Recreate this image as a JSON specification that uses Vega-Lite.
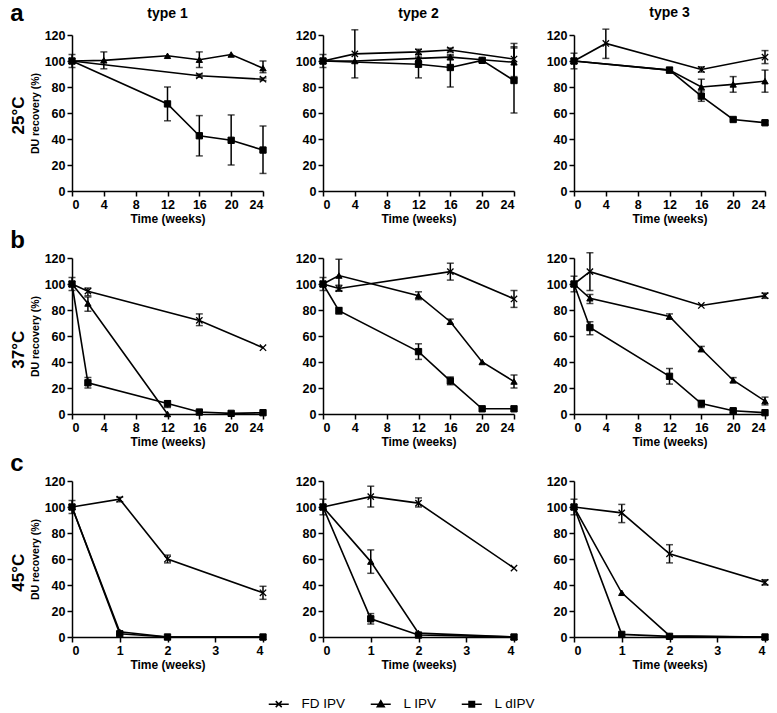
{
 "$schema": "https://vega.github.io/schema/vega-lite/v6.json",
 "background": "white",
 "padding": {"left": 10, "top": 2, "right": 0, "bottom": 2},
 "datasets": {"d": [
  {"r":"a","c":1,"s":"FD IPV","t":0,"v":100,"lo":95,"hi":105},
  {"r":"a","c":1,"s":"FD IPV","t":16,"v":88.6,"lo":87.5,"hi":90},
  {"r":"a","c":1,"s":"FD IPV","t":24,"v":86,"lo":85,"hi":87},
  {"r":"a","c":1,"s":"L IPV","t":0,"v":100},
  {"r":"a","c":1,"s":"L IPV","t":4,"v":100.5,"lo":94,"hi":107},
  {"r":"a","c":1,"s":"L IPV","t":12,"v":104},
  {"r":"a","c":1,"s":"L IPV","t":16,"v":101,"lo":95,"hi":107},
  {"r":"a","c":1,"s":"L IPV","t":20,"v":105},
  {"r":"a","c":1,"s":"L IPV","t":24,"v":94.5,"lo":91,"hi":100},
  {"r":"a","c":1,"s":"L dIPV","t":0,"v":100},
  {"r":"a","c":1,"s":"L dIPV","t":12,"v":67,"lo":54,"hi":80},
  {"r":"a","c":1,"s":"L dIPV","t":16,"v":42.5,"lo":27,"hi":58},
  {"r":"a","c":1,"s":"L dIPV","t":20,"v":39,"lo":20,"hi":58.5},
  {"r":"a","c":1,"s":"L dIPV","t":24,"v":31.5,"lo":13.5,"hi":50},

  {"r":"a","c":2,"s":"FD IPV","t":0,"v":100,"lo":95,"hi":105},
  {"r":"a","c":2,"s":"FD IPV","t":4,"v":105.5,"lo":87,"hi":124},
  {"r":"a","c":2,"s":"FD IPV","t":12,"v":107,"lo":105,"hi":109},
  {"r":"a","c":2,"s":"FD IPV","t":16,"v":108.5,"lo":107,"hi":110},
  {"r":"a","c":2,"s":"FD IPV","t":24,"v":101.5,"lo":88,"hi":113.5},
  {"r":"a","c":2,"s":"L IPV","t":0,"v":100},
  {"r":"a","c":2,"s":"L IPV","t":4,"v":100},
  {"r":"a","c":2,"s":"L IPV","t":12,"v":102,"lo":99,"hi":105},
  {"r":"a","c":2,"s":"L IPV","t":16,"v":103,"lo":101,"hi":105},
  {"r":"a","c":2,"s":"L IPV","t":20,"v":101},
  {"r":"a","c":2,"s":"L IPV","t":24,"v":99,"lo":87,"hi":111},
  {"r":"a","c":2,"s":"L dIPV","t":0,"v":100},
  {"r":"a","c":2,"s":"L dIPV","t":12,"v":97.5,"lo":87,"hi":103},
  {"r":"a","c":2,"s":"L dIPV","t":16,"v":95,"lo":80,"hi":104},
  {"r":"a","c":2,"s":"L dIPV","t":20,"v":100.5,"lo":99,"hi":102},
  {"r":"a","c":2,"s":"L dIPV","t":24,"v":85,"lo":60,"hi":110},

  {"r":"a","c":3,"s":"FD IPV","t":0,"v":100,"lo":94,"hi":106},
  {"r":"a","c":3,"s":"FD IPV","t":4,"v":113.5,"lo":102,"hi":124.5},
  {"r":"a","c":3,"s":"FD IPV","t":16,"v":93.5,"lo":91.5,"hi":95.5},
  {"r":"a","c":3,"s":"FD IPV","t":24,"v":103,"lo":98,"hi":108},
  {"r":"a","c":3,"s":"L IPV","t":0,"v":100},
  {"r":"a","c":3,"s":"L IPV","t":12,"v":93},
  {"r":"a","c":3,"s":"L IPV","t":16,"v":80,"lo":74,"hi":86},
  {"r":"a","c":3,"s":"L IPV","t":20,"v":82,"lo":76,"hi":88},
  {"r":"a","c":3,"s":"L IPV","t":24,"v":84.5,"lo":76,"hi":93},
  {"r":"a","c":3,"s":"L dIPV","t":0,"v":100},
  {"r":"a","c":3,"s":"L dIPV","t":12,"v":93,"lo":91,"hi":95},
  {"r":"a","c":3,"s":"L dIPV","t":16,"v":73,"lo":69,"hi":77},
  {"r":"a","c":3,"s":"L dIPV","t":20,"v":55},
  {"r":"a","c":3,"s":"L dIPV","t":24,"v":52.5,"lo":51,"hi":54},

  {"r":"b","c":1,"s":"FD IPV","t":0,"v":100,"lo":95,"hi":105},
  {"r":"b","c":1,"s":"FD IPV","t":2,"v":94.5,"lo":91,"hi":97},
  {"r":"b","c":1,"s":"FD IPV","t":16,"v":72,"lo":68,"hi":77},
  {"r":"b","c":1,"s":"FD IPV","t":24,"v":51},
  {"r":"b","c":1,"s":"L IPV","t":0,"v":100},
  {"r":"b","c":1,"s":"L IPV","t":2,"v":85,"lo":79,"hi":90},
  {"r":"b","c":1,"s":"L IPV","t":12,"v":0},
  {"r":"b","c":1,"s":"L dIPV","t":0,"v":100},
  {"r":"b","c":1,"s":"L dIPV","t":2,"v":24,"lo":20,"hi":28},
  {"r":"b","c":1,"s":"L dIPV","t":12,"v":8,"lo":5,"hi":10},
  {"r":"b","c":1,"s":"L dIPV","t":16,"v":1.5},
  {"r":"b","c":1,"s":"L dIPV","t":20,"v":0.5},
  {"r":"b","c":1,"s":"L dIPV","t":24,"v":1},

  {"r":"b","c":2,"s":"FD IPV","t":0,"v":100,"lo":95,"hi":105},
  {"r":"b","c":2,"s":"FD IPV","t":2,"v":96.5,"lo":94.5,"hi":99},
  {"r":"b","c":2,"s":"FD IPV","t":16,"v":109.5,"lo":103,"hi":116},
  {"r":"b","c":2,"s":"FD IPV","t":24,"v":88.5,"lo":82,"hi":95},
  {"r":"b","c":2,"s":"L IPV","t":0,"v":100},
  {"r":"b","c":2,"s":"L IPV","t":2,"v":106.5,"lo":95,"hi":119},
  {"r":"b","c":2,"s":"L IPV","t":12,"v":91,"lo":88,"hi":94},
  {"r":"b","c":2,"s":"L IPV","t":16,"v":71,"lo":69,"hi":73},
  {"r":"b","c":2,"s":"L IPV","t":20,"v":40},
  {"r":"b","c":2,"s":"L IPV","t":24,"v":25,"lo":20,"hi":30},
  {"r":"b","c":2,"s":"L dIPV","t":0,"v":100},
  {"r":"b","c":2,"s":"L dIPV","t":2,"v":79.5,"lo":77,"hi":82},
  {"r":"b","c":2,"s":"L dIPV","t":12,"v":48,"lo":42,"hi":54},
  {"r":"b","c":2,"s":"L dIPV","t":16,"v":25.5,"lo":22.5,"hi":28.5},
  {"r":"b","c":2,"s":"L dIPV","t":20,"v":4},
  {"r":"b","c":2,"s":"L dIPV","t":24,"v":4},

  {"r":"b","c":3,"s":"FD IPV","t":0,"v":100,"lo":94,"hi":106},
  {"r":"b","c":3,"s":"FD IPV","t":2,"v":109.5,"lo":95,"hi":124},
  {"r":"b","c":3,"s":"FD IPV","t":16,"v":83.5},
  {"r":"b","c":3,"s":"FD IPV","t":24,"v":91,"lo":89,"hi":93},
  {"r":"b","c":3,"s":"L IPV","t":0,"v":100},
  {"r":"b","c":3,"s":"L IPV","t":2,"v":89,"lo":85,"hi":92},
  {"r":"b","c":3,"s":"L IPV","t":12,"v":75,"lo":73,"hi":77},
  {"r":"b","c":3,"s":"L IPV","t":16,"v":50,"lo":48,"hi":52},
  {"r":"b","c":3,"s":"L IPV","t":20,"v":26,"lo":24,"hi":28},
  {"r":"b","c":3,"s":"L IPV","t":24,"v":10,"lo":7,"hi":13},
  {"r":"b","c":3,"s":"L dIPV","t":0,"v":100},
  {"r":"b","c":3,"s":"L dIPV","t":2,"v":66.5,"lo":61,"hi":71},
  {"r":"b","c":3,"s":"L dIPV","t":12,"v":29,"lo":23,"hi":35},
  {"r":"b","c":3,"s":"L dIPV","t":16,"v":8,"lo":5,"hi":10.5},
  {"r":"b","c":3,"s":"L dIPV","t":20,"v":2.5,"lo":1,"hi":4},
  {"r":"b","c":3,"s":"L dIPV","t":24,"v":1},

  {"r":"c","c":1,"s":"FD IPV","t":0,"v":100,"lo":95,"hi":105},
  {"r":"c","c":1,"s":"FD IPV","t":1,"v":106,"lo":104,"hi":107.5},
  {"r":"c","c":1,"s":"FD IPV","t":2,"v":60,"lo":57,"hi":63},
  {"r":"c","c":1,"s":"FD IPV","t":4,"v":34,"lo":29,"hi":39},
  {"r":"c","c":1,"s":"L IPV","t":0,"v":100},
  {"r":"c","c":1,"s":"L IPV","t":1,"v":4},
  {"r":"c","c":1,"s":"L IPV","t":2,"v":0},
  {"r":"c","c":1,"s":"L IPV","t":4,"v":0},
  {"r":"c","c":1,"s":"L dIPV","t":0,"v":100},
  {"r":"c","c":1,"s":"L dIPV","t":1,"v":2.5},
  {"r":"c","c":1,"s":"L dIPV","t":2,"v":0},
  {"r":"c","c":1,"s":"L dIPV","t":4,"v":0},

  {"r":"c","c":2,"s":"FD IPV","t":0,"v":100,"lo":94,"hi":106},
  {"r":"c","c":2,"s":"FD IPV","t":1,"v":108,"lo":100,"hi":116},
  {"r":"c","c":2,"s":"FD IPV","t":2,"v":103,"lo":100,"hi":107},
  {"r":"c","c":2,"s":"FD IPV","t":4,"v":53},
  {"r":"c","c":2,"s":"L IPV","t":0,"v":100},
  {"r":"c","c":2,"s":"L IPV","t":1,"v":58,"lo":49,"hi":67},
  {"r":"c","c":2,"s":"L IPV","t":2,"v":3},
  {"r":"c","c":2,"s":"L IPV","t":4,"v":0},
  {"r":"c","c":2,"s":"L dIPV","t":0,"v":100},
  {"r":"c","c":2,"s":"L dIPV","t":1,"v":14,"lo":10,"hi":18},
  {"r":"c","c":2,"s":"L dIPV","t":2,"v":1.5},
  {"r":"c","c":2,"s":"L dIPV","t":4,"v":0},

  {"r":"c","c":3,"s":"FD IPV","t":0,"v":100,"lo":94,"hi":106},
  {"r":"c","c":3,"s":"FD IPV","t":1,"v":95.5,"lo":88,"hi":102},
  {"r":"c","c":3,"s":"FD IPV","t":2,"v":64,"lo":57,"hi":71},
  {"r":"c","c":3,"s":"FD IPV","t":4,"v":42,"lo":40,"hi":44},
  {"r":"c","c":3,"s":"L IPV","t":0,"v":100},
  {"r":"c","c":3,"s":"L IPV","t":1,"v":34},
  {"r":"c","c":3,"s":"L IPV","t":2,"v":1},
  {"r":"c","c":3,"s":"L IPV","t":4,"v":0},
  {"r":"c","c":3,"s":"L dIPV","t":0,"v":100},
  {"r":"c","c":3,"s":"L dIPV","t":1,"v":2},
  {"r":"c","c":3,"s":"L dIPV","t":2,"v":0.5},
  {"r":"c","c":3,"s":"L dIPV","t":4,"v":0}
 ]},
 "data": {"name": "d"},
 "spacing": 4,
 "vconcat": [
  {"title": {"text": "a", "anchor": "start", "fontSize": 24, "offset": -20},
   "vconcat": [{"title": {"text": "25°C", "orient": "left", "anchor": "middle", "fontSize": 17, "offset": 2},
    "spacing": 26,
    "hconcat": [
     {"width":191,"height":156,"title":{"text":"type 1","fontSize":14,"offset":8},"transform":[{"filter":"datum.r=='a' && datum.c==1"}],
      "encoding":{"x":{"field":"t","type":"quantitative","scale":{"domain":[0,24],"nice":false,"padding":0},"axis":{"values":[0,4,8,12,16,20,24],"title":"Time (weeks)"}},
                  "y":{"field":"v","type":"quantitative","scale":{"domain":[0,120],"nice":false,"padding":0},"axis":{"values":[0,20,40,60,80,100,120],"title":"DU recovery (%)"}}},
      "layer":[
       {"mark":{"type":"errorbar","color":"black","thickness":1.5,"ticks":{"size":7}},"encoding":{"y":{"field":"lo","type":"quantitative","title":"DU recovery (%)"},"y2":{"field":"hi"}}},
       {"mark":{"type":"line","color":"black","strokeWidth":1.6},"encoding":{"detail":{"field":"s"}}},
       {"transform":[{"filter":"datum.s=='FD IPV'"}],"mark":{"type":"point","shape":"M-1,-1L1,1M-1,1L1,-1","filled":true,"color":"black","stroke":"black","strokeWidth":1.3,"size":40,"opacity":1}},
       {"transform":[{"filter":"datum.s=='L IPV'"}],"mark":{"type":"point","shape":"triangle-up","filled":true,"color":"black","stroke":"black","strokeWidth":1,"size":40,"opacity":1}},
       {"transform":[{"filter":"datum.s=='L dIPV'"}],"mark":{"type":"point","shape":"square","filled":true,"color":"black","stroke":"black","strokeWidth":1,"size":40,"opacity":1}}
      ]},
     {"width":191,"height":156,"title":{"text":"type 2","fontSize":14,"offset":8},"transform":[{"filter":"datum.r=='a' && datum.c==2"}],
      "encoding":{"x":{"field":"t","type":"quantitative","scale":{"domain":[0,24],"nice":false,"padding":0},"axis":{"values":[0,4,8,12,16,20,24],"title":"Time (weeks)"}},
                  "y":{"field":"v","type":"quantitative","scale":{"domain":[0,120],"nice":false,"padding":0},"axis":{"values":[0,20,40,60,80,100,120],"title":null}}},
      "layer":[
       {"mark":{"type":"errorbar","color":"black","thickness":1.5,"ticks":{"size":7}},"encoding":{"y":{"field":"lo","type":"quantitative","title":null},"y2":{"field":"hi"}}},
       {"mark":{"type":"line","color":"black","strokeWidth":1.6},"encoding":{"detail":{"field":"s"}}},
       {"transform":[{"filter":"datum.s=='FD IPV'"}],"mark":{"type":"point","shape":"M-1,-1L1,1M-1,1L1,-1","filled":true,"color":"black","stroke":"black","strokeWidth":1.3,"size":40,"opacity":1}},
       {"transform":[{"filter":"datum.s=='L IPV'"}],"mark":{"type":"point","shape":"triangle-up","filled":true,"color":"black","stroke":"black","strokeWidth":1,"size":40,"opacity":1}},
       {"transform":[{"filter":"datum.s=='L dIPV'"}],"mark":{"type":"point","shape":"square","filled":true,"color":"black","stroke":"black","strokeWidth":1,"size":40,"opacity":1}}
      ]},
     {"width":191,"height":156,"title":{"text":"type 3","fontSize":14,"offset":8},"transform":[{"filter":"datum.r=='a' && datum.c==3"}],
      "encoding":{"x":{"field":"t","type":"quantitative","scale":{"domain":[0,24],"nice":false,"padding":0},"axis":{"values":[0,4,8,12,16,20,24],"title":"Time (weeks)"}},
                  "y":{"field":"v","type":"quantitative","scale":{"domain":[0,120],"nice":false,"padding":0},"axis":{"values":[0,20,40,60,80,100,120],"title":null}}},
      "layer":[
       {"mark":{"type":"errorbar","color":"black","thickness":1.5,"ticks":{"size":7}},"encoding":{"y":{"field":"lo","type":"quantitative","title":null},"y2":{"field":"hi"}}},
       {"mark":{"type":"line","color":"black","strokeWidth":1.6},"encoding":{"detail":{"field":"s"}}},
       {"transform":[{"filter":"datum.s=='FD IPV'"}],"mark":{"type":"point","shape":"M-1,-1L1,1M-1,1L1,-1","filled":true,"color":"black","stroke":"black","strokeWidth":1.3,"size":40,"opacity":1}},
       {"transform":[{"filter":"datum.s=='L IPV'"}],"mark":{"type":"point","shape":"triangle-up","filled":true,"color":"black","stroke":"black","strokeWidth":1,"size":40,"opacity":1}},
       {"transform":[{"filter":"datum.s=='L dIPV'"}],"mark":{"type":"point","shape":"square","filled":true,"color":"black","stroke":"black","strokeWidth":1,"size":40,"opacity":1}}
      ]}
    ]}]},
  {"title": {"text": "b", "anchor": "start", "fontSize": 24, "offset": -1},
   "vconcat": [{"title": {"text": "37°C", "orient": "left", "anchor": "middle", "fontSize": 17, "offset": 2},
    "spacing": 26,
    "hconcat": [
     {"width":191,"height":156,"transform":[{"filter":"datum.r=='b' && datum.c==1"}],
      "encoding":{"x":{"field":"t","type":"quantitative","scale":{"domain":[0,24],"nice":false,"padding":0},"axis":{"values":[0,4,8,12,16,20,24],"title":"Time (weeks)"}},
                  "y":{"field":"v","type":"quantitative","scale":{"domain":[0,120],"nice":false,"padding":0},"axis":{"values":[0,20,40,60,80,100,120],"title":"DU recovery (%)"}}},
      "layer":[
       {"mark":{"type":"errorbar","color":"black","thickness":1.5,"ticks":{"size":7}},"encoding":{"y":{"field":"lo","type":"quantitative","title":"DU recovery (%)"},"y2":{"field":"hi"}}},
       {"mark":{"type":"line","color":"black","strokeWidth":1.6},"encoding":{"detail":{"field":"s"}}},
       {"transform":[{"filter":"datum.s=='FD IPV'"}],"mark":{"type":"point","shape":"M-1,-1L1,1M-1,1L1,-1","filled":true,"color":"black","stroke":"black","strokeWidth":1.3,"size":40,"opacity":1}},
       {"transform":[{"filter":"datum.s=='L IPV'"}],"mark":{"type":"point","shape":"triangle-up","filled":true,"color":"black","stroke":"black","strokeWidth":1,"size":40,"opacity":1}},
       {"transform":[{"filter":"datum.s=='L dIPV'"}],"mark":{"type":"point","shape":"square","filled":true,"color":"black","stroke":"black","strokeWidth":1,"size":40,"opacity":1}}
      ]},
     {"width":191,"height":156,"transform":[{"filter":"datum.r=='b' && datum.c==2"}],
      "encoding":{"x":{"field":"t","type":"quantitative","scale":{"domain":[0,24],"nice":false,"padding":0},"axis":{"values":[0,4,8,12,16,20,24],"title":"Time (weeks)"}},
                  "y":{"field":"v","type":"quantitative","scale":{"domain":[0,120],"nice":false,"padding":0},"axis":{"values":[0,20,40,60,80,100,120],"title":null}}},
      "layer":[
       {"mark":{"type":"errorbar","color":"black","thickness":1.5,"ticks":{"size":7}},"encoding":{"y":{"field":"lo","type":"quantitative","title":null},"y2":{"field":"hi"}}},
       {"mark":{"type":"line","color":"black","strokeWidth":1.6},"encoding":{"detail":{"field":"s"}}},
       {"transform":[{"filter":"datum.s=='FD IPV'"}],"mark":{"type":"point","shape":"M-1,-1L1,1M-1,1L1,-1","filled":true,"color":"black","stroke":"black","strokeWidth":1.3,"size":40,"opacity":1}},
       {"transform":[{"filter":"datum.s=='L IPV'"}],"mark":{"type":"point","shape":"triangle-up","filled":true,"color":"black","stroke":"black","strokeWidth":1,"size":40,"opacity":1}},
       {"transform":[{"filter":"datum.s=='L dIPV'"}],"mark":{"type":"point","shape":"square","filled":true,"color":"black","stroke":"black","strokeWidth":1,"size":40,"opacity":1}}
      ]},
     {"width":191,"height":156,"transform":[{"filter":"datum.r=='b' && datum.c==3"}],
      "encoding":{"x":{"field":"t","type":"quantitative","scale":{"domain":[0,24],"nice":false,"padding":0},"axis":{"values":[0,4,8,12,16,20,24],"title":"Time (weeks)"}},
                  "y":{"field":"v","type":"quantitative","scale":{"domain":[0,120],"nice":false,"padding":0},"axis":{"values":[0,20,40,60,80,100,120],"title":null}}},
      "layer":[
       {"mark":{"type":"errorbar","color":"black","thickness":1.5,"ticks":{"size":7}},"encoding":{"y":{"field":"lo","type":"quantitative","title":null},"y2":{"field":"hi"}}},
       {"mark":{"type":"line","color":"black","strokeWidth":1.6},"encoding":{"detail":{"field":"s"}}},
       {"transform":[{"filter":"datum.s=='FD IPV'"}],"mark":{"type":"point","shape":"M-1,-1L1,1M-1,1L1,-1","filled":true,"color":"black","stroke":"black","strokeWidth":1.3,"size":40,"opacity":1}},
       {"transform":[{"filter":"datum.s=='L IPV'"}],"mark":{"type":"point","shape":"triangle-up","filled":true,"color":"black","stroke":"black","strokeWidth":1,"size":40,"opacity":1}},
       {"transform":[{"filter":"datum.s=='L dIPV'"}],"mark":{"type":"point","shape":"square","filled":true,"color":"black","stroke":"black","strokeWidth":1,"size":40,"opacity":1}}
      ]}
    ]}]},
  {"title": {"text": "c", "anchor": "start", "fontSize": 24, "offset": -1},
   "vconcat": [{"title": {"text": "45°C", "orient": "left", "anchor": "middle", "fontSize": 17, "offset": 2},
    "spacing": 26,
    "hconcat": [
     {"width":191,"height":156,"transform":[{"filter":"datum.r=='c' && datum.c==1"}],
      "encoding":{"x":{"field":"t","type":"quantitative","scale":{"domain":[0,4],"nice":false,"padding":0},"axis":{"values":[0,1,2,3,4],"title":"Time (weeks)"}},
                  "y":{"field":"v","type":"quantitative","scale":{"domain":[0,120],"nice":false,"padding":0},"axis":{"values":[0,20,40,60,80,100,120],"title":"DU recovery (%)"}}},
      "layer":[
       {"mark":{"type":"errorbar","color":"black","thickness":1.5,"ticks":{"size":7}},"encoding":{"y":{"field":"lo","type":"quantitative","title":"DU recovery (%)"},"y2":{"field":"hi"}}},
       {"mark":{"type":"line","color":"black","strokeWidth":1.6},"encoding":{"detail":{"field":"s"}}},
       {"transform":[{"filter":"datum.s=='FD IPV'"}],"mark":{"type":"point","shape":"M-1,-1L1,1M-1,1L1,-1","filled":true,"color":"black","stroke":"black","strokeWidth":1.3,"size":40,"opacity":1}},
       {"transform":[{"filter":"datum.s=='L IPV'"}],"mark":{"type":"point","shape":"triangle-up","filled":true,"color":"black","stroke":"black","strokeWidth":1,"size":40,"opacity":1}},
       {"transform":[{"filter":"datum.s=='L dIPV'"}],"mark":{"type":"point","shape":"square","filled":true,"color":"black","stroke":"black","strokeWidth":1,"size":40,"opacity":1}}
      ]},
     {"width":191,"height":156,"transform":[{"filter":"datum.r=='c' && datum.c==2"}],
      "encoding":{"x":{"field":"t","type":"quantitative","scale":{"domain":[0,4],"nice":false,"padding":0},"axis":{"values":[0,1,2,3,4],"title":"Time (weeks)"}},
                  "y":{"field":"v","type":"quantitative","scale":{"domain":[0,120],"nice":false,"padding":0},"axis":{"values":[0,20,40,60,80,100,120],"title":null}}},
      "layer":[
       {"mark":{"type":"errorbar","color":"black","thickness":1.5,"ticks":{"size":7}},"encoding":{"y":{"field":"lo","type":"quantitative","title":null},"y2":{"field":"hi"}}},
       {"mark":{"type":"line","color":"black","strokeWidth":1.6},"encoding":{"detail":{"field":"s"}}},
       {"transform":[{"filter":"datum.s=='FD IPV'"}],"mark":{"type":"point","shape":"M-1,-1L1,1M-1,1L1,-1","filled":true,"color":"black","stroke":"black","strokeWidth":1.3,"size":40,"opacity":1}},
       {"transform":[{"filter":"datum.s=='L IPV'"}],"mark":{"type":"point","shape":"triangle-up","filled":true,"color":"black","stroke":"black","strokeWidth":1,"size":40,"opacity":1}},
       {"transform":[{"filter":"datum.s=='L dIPV'"}],"mark":{"type":"point","shape":"square","filled":true,"color":"black","stroke":"black","strokeWidth":1,"size":40,"opacity":1}},
       {"transform":[{"filter":"false"}],"mark":{"type":"point","filled":true,"color":"black","stroke":"black","strokeWidth":1.5,"size":40,"opacity":1},
        "encoding":{"shape":{"field":"s","type":"nominal","scale":{"domain":["FD IPV","L IPV","L dIPV"],"range":["M-2,0L2,0M-0.6,-0.6L0.6,0.6M-0.6,0.6L0.6,-0.6","M-2,0L2,0M0,-0.7L0.7,0.5L-0.7,0.5Z","M-2,0L2,0M-0.55,-0.55L0.55,-0.55L0.55,0.55L-0.55,0.55Z"]},
          "legend":{"title":null,"orient":"none","legendX":200,"legendY":662,"direction":"horizontal","symbolSize":100,"labelFontSize":13.5,"labelFont":"Liberation Sans","labelColor":"black","columnPadding":21,"labelOffset":16}}}}
      ]},
     {"width":191,"height":156,"transform":[{"filter":"datum.r=='c' && datum.c==3"}],
      "encoding":{"x":{"field":"t","type":"quantitative","scale":{"domain":[0,4],"nice":false,"padding":0},"axis":{"values":[0,1,2,3,4],"title":"Time (weeks)"}},
                  "y":{"field":"v","type":"quantitative","scale":{"domain":[0,120],"nice":false,"padding":0},"axis":{"values":[0,20,40,60,80,100,120],"title":null}}},
      "layer":[
       {"mark":{"type":"errorbar","color":"black","thickness":1.5,"ticks":{"size":7}},"encoding":{"y":{"field":"lo","type":"quantitative","title":null},"y2":{"field":"hi"}}},
       {"mark":{"type":"line","color":"black","strokeWidth":1.6},"encoding":{"detail":{"field":"s"}}},
       {"transform":[{"filter":"datum.s=='FD IPV'"}],"mark":{"type":"point","shape":"M-1,-1L1,1M-1,1L1,-1","filled":true,"color":"black","stroke":"black","strokeWidth":1.3,"size":40,"opacity":1}},
       {"transform":[{"filter":"datum.s=='L IPV'"}],"mark":{"type":"point","shape":"triangle-up","filled":true,"color":"black","stroke":"black","strokeWidth":1,"size":40,"opacity":1}},
       {"transform":[{"filter":"datum.s=='L dIPV'"}],"mark":{"type":"point","shape":"square","filled":true,"color":"black","stroke":"black","strokeWidth":1,"size":40,"opacity":1}}
      ]}
    ]}]}
 ],
 "config": {
  "view": {"stroke": null},
  "font": "Liberation Sans",
  "title": {"font": "Liberation Sans", "fontWeight": "bold", "color": "black"},
  "axis": {"labelFont": "Liberation Sans", "labelFontWeight": "bold", "labelFontSize": 12.5, "labelColor": "black",
           "titleFont": "Liberation Sans", "titleFontWeight": "bold", "titleFontSize": 12, "titleColor": "black",
           "domainColor": "black", "domainWidth": 1.5, "tickColor": "black", "tickWidth": 1.5, "tickSize": 5,
           "grid": false, "labelPadding": 2, "titlePadding": 3},
  "axisY": {"titleFontSize": 10.5, "titlePadding": 4},
  "legend": {"labelFont": "Liberation Sans"}
 }
}
